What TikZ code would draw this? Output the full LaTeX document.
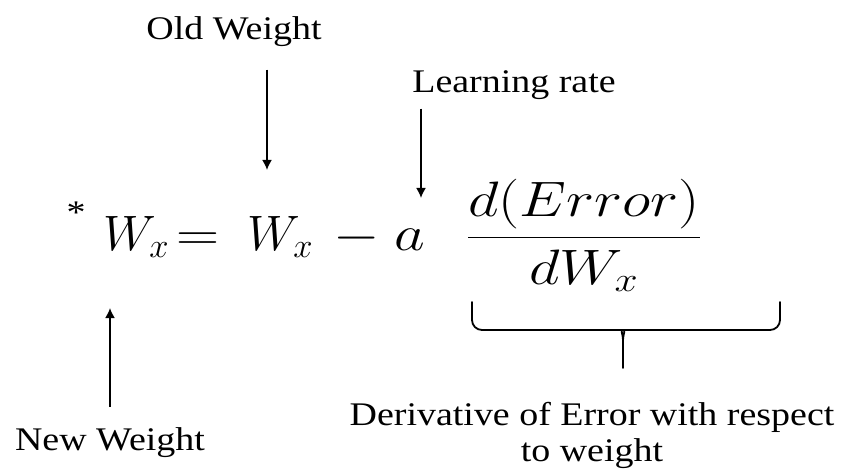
\documentclass[tikz,border=0pt]{standalone}
\usepackage{fontspec}
\setmainfont[FakeStretch=1.15]{Liberation Serif}
\usepackage{graphicx}
\usetikzlibrary{arrows.meta}

\newcommand{\widemath}[2][1.2]{\scalebox{#1}[1]{$\displaystyle #2$}}

\begin{document}
\begin{tikzpicture}[
  x=0.5pt, y=-0.5pt,
  lbl/.style={font=\fontsize{16.5}{18}\selectfont, inner sep=0pt, align=center},
  term/.style={font=\fontsize{23.5}{28}\selectfont, inner sep=0pt, anchor=base west},
  arr/.style={-{Latex[length=5pt,width=5pt]}, line width=0.9pt},
  brc/.style={line width=0.9pt, line cap=round}
]
\useasboundingbox (0,0) rectangle (845,470);

% the update rule, one node per term
\node[lbl] (star) at (76,213) {*};
\node[term] (wnew) at (103,250) {\widemath[1]{W_x}};
\node[term] (eq) at (176,250) {\widemath{=}};
\node[term] (wold) at (247,250) {\widemath[1]{W_x}};
\node[term] (minus) at (333,250) {\widemath{-}};
\node[term] (rate) at (394,250) {\widemath{a}};
\node[term, anchor=base] (frac) at (584,250) {\widemath{\frac{d(Error)}{dW_x}}};

% labels
\node[lbl, anchor=base] (ow) at (234,40) {Old Weight};
\node[lbl, anchor=base] (lr) at (514,93) {Learning rate};
\node[lbl, anchor=base] (nw) at (110,450) {New Weight};
\node[lbl, anchor=base] (der) at (592,461) {Derivative of Error with respect\\to weight};

% arrow tips
\coordinate (owtip) at (267,170);
\coordinate (lrtip) at (421,198);
\coordinate (nwtip) at (110,308);

\draw[arr, shorten <=11pt] (ow.south -| owtip) -- (owtip);
\draw[arr, shorten <=4pt] (lr.south -| lrtip) -- (lrtip);
\draw[arr, shorten <=10pt] (nw.north) -- (nwtip);

% brace under the fraction
\coordinate (bl) at (472,302);
\coordinate (br) at (780,302);
\coordinate (bm) at (623,340);
\coordinate (bt) at (623,368);
\draw[brc, rounded corners=5pt] (bl) -- (472,330) -- (613,330) [sharp corners] .. controls (620,330) and (623,334) .. (bm) -- (bt);
\draw[brc, rounded corners=5pt] (br) -- (780,330) -- (633,330) [sharp corners] .. controls (626,330) and (623,334) .. (bm);
\end{tikzpicture}
\end{document}
